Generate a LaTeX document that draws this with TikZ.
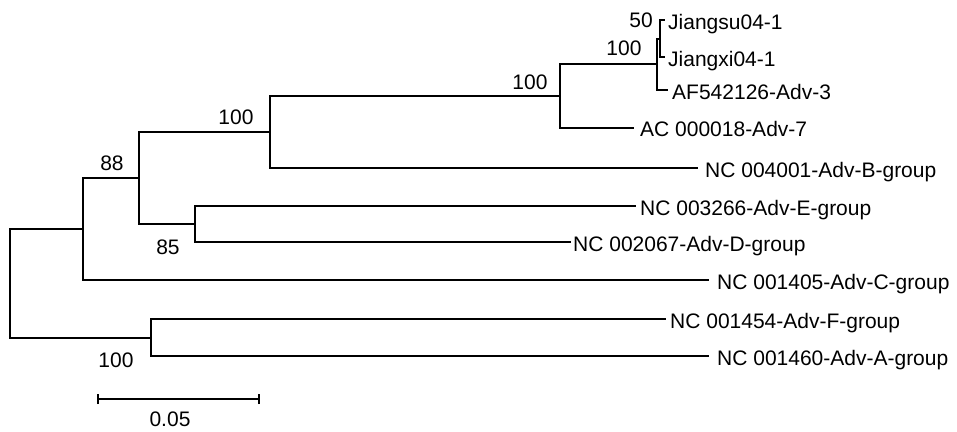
\documentclass[tikz,border=0pt]{standalone}
\usepackage{fontspec}
\setmainfont{Liberation Sans}
\begin{document}
\begin{tikzpicture}[x=1pt,y=-1pt,
  br/.style={line width=2pt, line cap=rect},
  leaf/.style={anchor=base west, inner sep=0pt, font=\fontsize{21}{24}\selectfont},
  boot/.style={anchor=base, inner sep=0pt, font=\fontsize{21}{24}\selectfont}]
\useasboundingbox (0,0) rectangle (957,431);
% internal nodes
\coordinate (n50) at (660,38.5);
\coordinate (nc) at (657,64);
\coordinate (nd) at (560,96);
\coordinate (nb) at (270,132);
\coordinate (n85) at (195,224);
\coordinate (na) at (139,178);
\coordinate (n88) at (83,229);
\coordinate (nfa) at (151,337.5);
\coordinate (root) at (10,283);
% leaf ends
\coordinate (lJs) at (664,20);
\coordinate (lJx) at (664,57);
\coordinate (lAF) at (667,90);
\coordinate (lAC) at (633,128);
\coordinate (lB) at (697,168);
\coordinate (lE) at (635,206);
\coordinate (lD) at (570,242);
\coordinate (lC) at (708,280);
\coordinate (lF) at (665,319);
\coordinate (lA) at (708,356);
% leaf labels
\node[leaf] (tJs) at (668,29) {Jiangsu04-1};
\node[leaf] (tJx) at (668,66) {Jiangxi04-1};
\node[leaf] (tAF) at (672,99) {AF542126-Adv-3};
\node[leaf] (tAC) at (640,136) {AC 000018-Adv-7};
\node[leaf] (tB) at (705,177) {NC 004001-Adv-B-group};
\node[leaf] (tE) at (640,215) {NC 003266-Adv-E-group};
\node[leaf] (tD) at (573,251) {NC 002067-Adv-D-group};
\node[leaf] (tC) at (717,289) {NC 001405-Adv-C-group};
\node[leaf] (tF) at (670,328) {NC 001454-Adv-F-group};
\node[leaf] (tA) at (717,365) {NC 001460-Adv-A-group};
% branches
\draw[br] (n50) |- (lJs);
\draw[br] (n50) |- (lJx);
\draw[br] (nc) |- (n50);
\draw[br] (nc) |- (lAF);
\draw[br] (nd) |- (nc);
\draw[br] (nd) |- (lAC);
\draw[br] (nb) |- (nd);
\draw[br] (nb) |- (lB);
\draw[br] (n85) |- (lE);
\draw[br] (n85) |- (lD);
\draw[br] (na) |- (nb);
\draw[br] (na) |- (n85);
\draw[br] (n88) |- (na);
\draw[br] (n88) |- (lC);
\draw[br] (nfa) |- (lF);
\draw[br] (nfa) |- (lA);
\draw[br] (root) |- (n88);
\draw[br] (root) |- (nfa);
% bootstrap values
\node[boot] (b50) at (641,27) {50};
\node[boot] (b100c) at (624,55) {100};
\node[boot] (b100d) at (530,89) {100};
\node[boot] (b100b) at (236,124) {100};
\node[boot] (b88) at (112,170) {88};
\node[boot] (b85) at (168,254) {85};
\node[boot] (b100fa) at (116,367) {100};
% scale bar
\coordinate (s1) at (98,399);
\coordinate (s2) at (259,399);
\draw[line width=1.3pt] (s1) -- (s2);
\draw[line width=1.3pt] ([yshift=-5pt]s1) -- ([yshift=5pt]s1);
\draw[line width=1.3pt] ([yshift=-5pt]s2) -- ([yshift=5pt]s2);
\node[boot] (sl) at (170,426) {0.05};
\end{tikzpicture}
\end{document}
